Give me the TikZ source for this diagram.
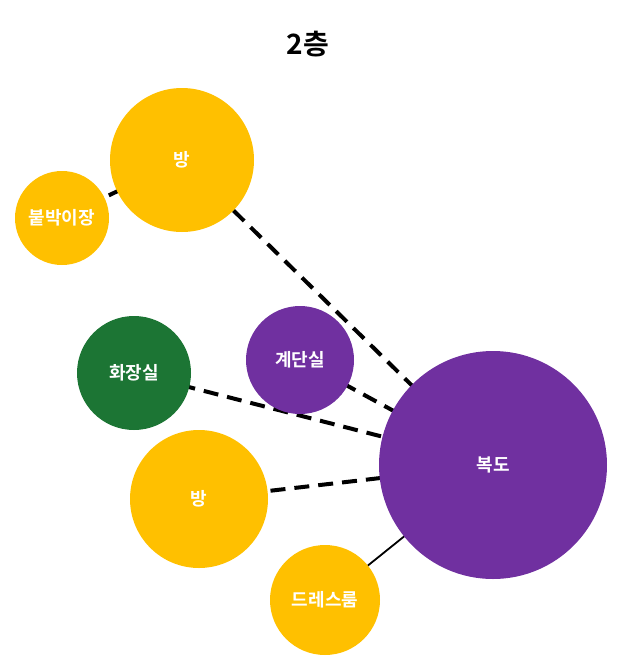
\documentclass[tikz,border=0pt]{standalone}
\usepackage{fontspec}
\setmainfont{Noto Sans CJK KR}
\newfontfamily\kr{Noto Sans CJK KR Bold}
\usetikzlibrary{backgrounds}
\definecolor{cyellow}{HTML}{FFC000}
\definecolor{cpurple}{HTML}{7030A0}
\definecolor{cgreen}{HTML}{1C7534}
\tikzset{
  room/.style={circle, draw=none, inner sep=0pt, text=white, font=\kr\fontsize{18}{20}\selectfont},
  dashlink/.style={draw=black, line width=4pt, dash pattern=on 15pt off 9pt},
  solidlink/.style={draw=black, line width=1.8pt}
}
\begin{document}
\begin{tikzpicture}[x=1pt,y=-1pt]
\useasboundingbox (0,0) rectangle (622,670);
\node[font=\kr\fontsize{28}{32}\selectfont] (title) at (308,44) {2층};
\node[room, fill=cyellow, minimum size=144pt] (bang1) at (182,160) {방};
\node[room, fill=cyellow, minimum size=94pt] (closet) at (62,218) {붙박이장};
\node[room, fill=cgreen, minimum size=114pt] (wc) at (134,373) {화장실};
\node[room, fill=cpurple, minimum size=108pt] (stair) at (300,360) {계단실};
\node[room, fill=cyellow, minimum size=138pt] (bang2) at (199,499) {방};
\node[room, fill=cpurple, minimum size=228pt] (hall) at (493,465) {복도};
\node[room, fill=cyellow, minimum size=110pt] (dress) at (325,600) {드레스룸};
\begin{scope}[on background layer]
\draw[dashlink, dash phase=20pt] (closet.center) -- (bang1.center);
\draw[dashlink] (bang1.center) -- (hall.center);
\draw[dashlink] (stair.center) -- (hall.center);
\draw[dashlink] (wc.center) -- (hall.center);
\draw[dashlink] (bang2.center) -- (hall.center);
\draw[solidlink] (dress.center) -- (hall.center);
\end{scope}
\end{tikzpicture}
\end{document}
